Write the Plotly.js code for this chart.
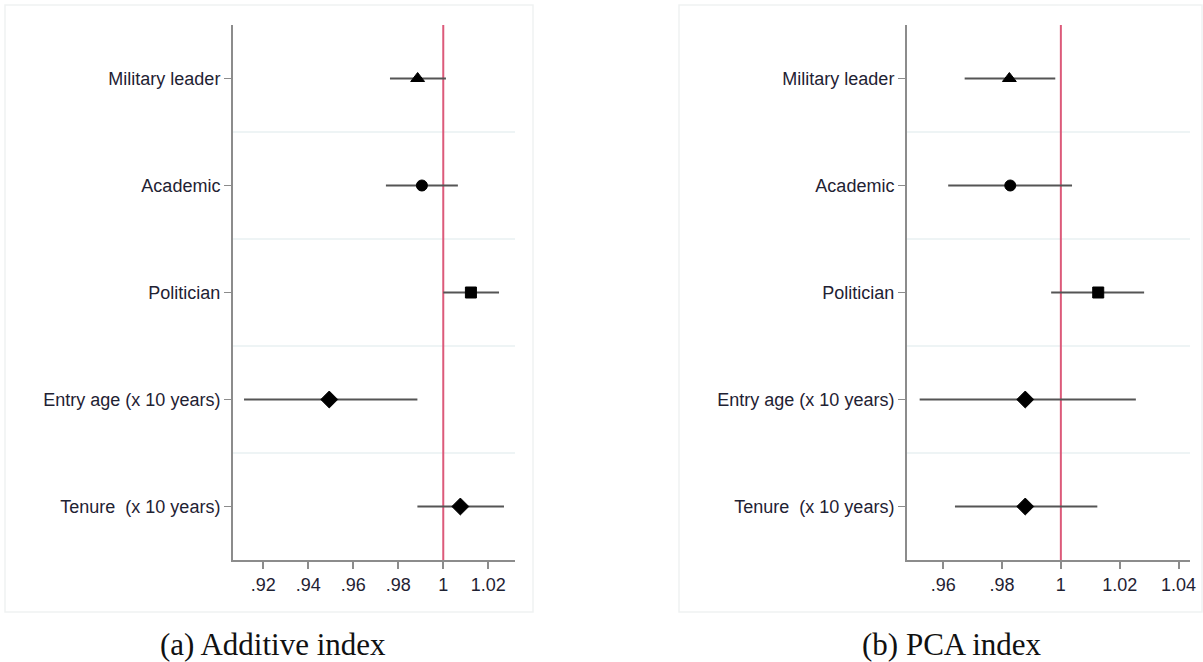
<!DOCTYPE html>
<html>
<head>
<meta charset="utf-8">
<script src="https://cdn.plot.ly/plotly-3.0.1.min.js"></script>
<style>html,body{margin:0;padding:0;background:#fff;}#chart{width:1203px;height:662px;}</style>
</head>
<body>
<div id="chart"></div>
<script>
// ---- data ----
const categories = ['Military leader', 'Academic', 'Politician', 'Entry age (x 10 years)', 'Tenure\u00a0 (x 10 years)'];
const markerSymbols = ['triangle-up', 'circle', 'square', 'diamond', 'diamond'];

const addEst = [0.9886, 0.9905, 1.0123, 0.9493, 1.0076];
const addLo  = [0.9763, 0.9745, 1.0000, 0.9114, 0.9885];
const addHi  = [1.0012, 1.0065, 1.0248, 0.9885, 1.0270];

const pcaEst = [0.9825, 0.9828, 1.0127, 0.9879, 0.9879];
const pcaLo  = [0.9673, 0.9617, 0.9967, 0.9520, 0.9640];
const pcaHi  = [0.9981, 1.0038, 1.0283, 1.0255, 1.0124];

const addTicks = [0.92, 0.94, 0.96, 0.98, 1, 1.02];
const addTickText = ['.92', '.94', '.96', '.98', '1', '1.02'];
const pcaTicks = [0.96, 0.98, 1, 1.02, 1.04];
const pcaTickText = ['.96', '.98', '1', '1.02', '1.04'];

const captions = ['(a) Additive index', '(b) PCA index'];
// ---------------------------------------

const W = 1203, H = 662;
const px = v => v / W;
const py = v => 1 - v / H;
const ypos = categories.map((c, i) => i + 1);
const sizes = markerSymbols.map(s => s === 'triangle-up' ? 12 : (s === 'diamond' ? 13 : 11));

function panelTraces(est, lo, hi, xa, ya) {
  const bars = {
    type: 'scatter', mode: 'markers', x: est, y: ypos, xaxis: xa, yaxis: ya,
    marker: { size: 1, color: 'rgba(0,0,0,0)' },
    error_x: {
      type: 'data', symmetric: false,
      array: hi.map((h, i) => h - est[i]),
      arrayminus: lo.map((l, i) => est[i] - l),
      width: 0, thickness: 2, color: '#555'
    },
    hoverinfo: 'skip', showlegend: false, cliponaxis: false
  };
  const pts = {
    type: 'scatter', mode: 'markers', x: est, y: ypos, xaxis: xa, yaxis: ya,
    marker: { symbol: markerSymbols, size: sizes, color: '#000', opacity: 1, line: { width: 1, color: '#000' } },
    hoverinfo: 'skip', showlegend: false, cliponaxis: false
  };
  return [bars, pts];
}

const tickFont = { family: 'Liberation Sans, Arial, sans-serif', size: 18, color: '#1f2233' };
const yDomain = [py(560), py(25)];

function xAxis(dom, range, tv, tt, anchor) {
  return {
    domain: dom, range: range, tickvals: tv, ticktext: tt, anchor: anchor,
    ticks: 'outside', ticklen: 7, tickwidth: 2, tickcolor: '#8c8c8c',
    showline: true, linecolor: '#8c8c8c', linewidth: 2,
    showgrid: false, zeroline: false, tickfont: tickFont, fixedrange: true
  };
}
function yAxis(anchor) {
  return {
    domain: yDomain, range: [5.5, 0.5], tickvals: ypos, ticktext: categories, anchor: anchor,
    ticks: 'outside', ticklen: 7, tickwidth: 1.5, tickcolor: '#8c8c8c',
    showline: true, linecolor: '#8c8c8c', linewidth: 2,
    showgrid: false, zeroline: false, tickfont: tickFont, fixedrange: true
  };
}

const shapes = [];
// panel frames
shapes.push({ type: 'rect', xref: 'paper', yref: 'paper', x0: px(5), x1: px(533), y0: py(612), y1: py(5), line: { color: '#f0f2f2', width: 1.5 } });
shapes.push({ type: 'rect', xref: 'paper', yref: 'paper', x0: px(679), x1: px(1202), y0: py(612), y1: py(5), line: { color: '#f0f2f2', width: 1.5 } });
// separators and reference lines
[['x', 'y'], ['x2', 'y2']].forEach(([xa, ya]) => {
  for (let i = 1; i < categories.length; i++) {
    shapes.push({ type: 'line', xref: xa + ' domain', yref: ya, x0: 0, x1: 1, y0: i + 0.5, y1: i + 0.5, line: { color: '#e8f1f2', width: 1.5 }, layer: 'below' });
  }
  shapes.push({ type: 'line', xref: xa, yref: ya + ' domain', x0: 1, x1: 1, y0: 0, y1: 1, line: { color: '#dc5a7a', width: 2 }, layer: 'below' });
});

const capFont = { family: 'Liberation Serif, Times New Roman, serif', size: 31, color: '#111' };
const layout = {
  width: W, height: H,
  margin: { l: 0, r: 0, t: 0, b: 0 },
  paper_bgcolor: '#fff', plot_bgcolor: 'rgba(0,0,0,0)',
  showlegend: false,
  xaxis: xAxis([px(233), px(515)], [0.9065, 1.0319], addTicks, addTickText, 'y'),
  yaxis: yAxis('x'),
  xaxis2: xAxis([px(907), px(1190)], [0.9477, 1.0439], pcaTicks, pcaTickText, 'y2'),
  yaxis2: yAxis('x2'),
  shapes: shapes,
  annotations: [
    { text: captions[0], xref: 'paper', yref: 'paper', x: px(273), y: py(644), showarrow: false, xanchor: 'center', yanchor: 'middle', font: capFont },
    { text: captions[1], xref: 'paper', yref: 'paper', x: px(952), y: py(644), showarrow: false, xanchor: 'center', yanchor: 'middle', font: capFont }
  ]
};

Plotly.newPlot('chart', [
  ...panelTraces(addEst, addLo, addHi, 'x', 'y'),
  ...panelTraces(pcaEst, pcaLo, pcaHi, 'x2', 'y2')
], layout, { displayModeBar: false, staticPlot: true });
</script>
</body>
</html>
